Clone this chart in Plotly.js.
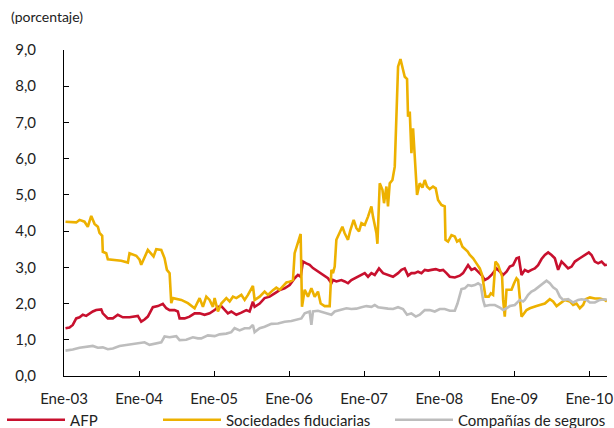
<!DOCTYPE html>
<html>
<head>
<meta charset="utf-8">
<script src="https://cdn.plot.ly/plotly-3.0.1.min.js"></script>
<style>html,body{margin:0;padding:0;background:#fff;}#chart{width:614px;height:428px;}</style>
</head>
<body>
<div id="chart"></div>
<script>
// Time expressed in decimal years
const afpT = [
 2003.020,2003.073,2003.117,2003.163,2003.207,2003.251,2003.296,2003.340,2003.384,2003.429,
 2003.496,2003.517,2003.584,2003.651,2003.717,2003.784,2003.873,2003.984,2004.029,2004.073,
 2004.117,2004.184,2004.251,2004.317,2004.363,2004.407,2004.473,2004.517,2004.540,2004.607,
 2004.673,2004.740,
 2004.807,2004.873,2004.940,2005.007,2005.051,2005.096,2005.140,2005.184,2005.229,2005.296,
 2005.363,2005.429,2005.473,2005.517,2005.540,2005.607,2005.673,2005.740,2005.807,2005.873,
 2005.940,2006.007,2006.073,2006.117,2006.153,2006.184,2006.229,2006.273,2006.317,2006.384,
 2006.451,2006.517,2006.563,
 2006.584,2006.629,2006.696,2006.740,2006.784,2006.829,2006.896,2006.963,2007.007,2007.051,
 2007.096,2007.140,2007.197,2007.251,2007.317,2007.384,2007.451,2007.496,2007.540,2007.584,
 2007.629,2007.673,2007.717,2007.763,2007.807,2007.851,2007.896,2007.953,2008.007,2008.051,
 2008.096,2008.140,2008.207,2008.273,2008.317,
 2008.384,2008.429,2008.473,2008.517,2008.563,2008.607,2008.651,2008.696,2008.763,2008.807,
 2008.851,2008.896,2008.940,2008.984,2009.029,2009.060,2009.096,2009.140,2009.184,2009.229,
 2009.273,2009.317,2009.363,2009.407,2009.451,2009.496,2009.540,2009.584,2009.629,2009.673,
 2009.717,2009.763,2009.807,2009.873,2009.940,2009.993,2010.029,2010.073,2010.117,2010.163,
 2010.207,2010.233
];
const afpV = [
 1.32,1.34,1.41,1.59,1.62,1.69,1.66,1.73,1.78,1.82,
 1.84,1.73,1.59,1.59,1.69,1.62,1.62,1.66,1.50,1.56,
 1.64,1.90,1.93,1.99,1.87,1.82,1.82,1.78,1.59,1.59,
 1.64,1.73,
 1.73,1.69,1.73,1.82,1.91,1.93,1.84,1.73,1.78,1.69,
 1.75,1.82,1.78,2.05,1.91,2.00,2.15,2.19,2.28,2.37,
 2.42,2.51,2.70,2.79,2.74,3.16,3.11,3.07,2.98,2.88,
 2.79,2.70,2.56,
 2.65,2.61,2.65,2.61,2.56,2.65,2.72,2.79,2.84,2.74,
 2.84,2.79,2.97,2.84,2.79,2.74,2.84,2.93,2.97,2.77,
 2.84,2.84,2.88,2.84,2.93,2.91,2.93,2.95,2.91,2.93,
 2.84,2.74,2.72,2.77,2.84,
 3.06,2.93,2.97,2.88,2.79,2.65,2.70,2.79,2.97,2.88,
 2.79,2.88,3.02,3.06,3.25,3.27,2.79,2.93,2.88,2.93,
 2.97,3.06,3.23,3.34,3.41,3.34,3.25,2.93,3.16,3.07,
 2.97,3.02,3.16,3.25,3.34,3.41,3.34,3.16,3.11,3.16,
 3.06,3.07
];

const sfT = [
 2003.020,2003.163,2003.207,2003.273,2003.317,2003.363,2003.407,2003.451,2003.473,2003.509,
 2003.517,2003.563,2003.584,2003.673,2003.763,2003.851,2003.873,2003.963,2004.007,2004.029,
 2004.073,2004.117,2004.163,2004.193,2004.229,2004.296,2004.340,2004.371,2004.407,2004.429,
 2004.451,2004.563,2004.651,2004.740,
 2004.807,2004.851,2004.896,2004.940,2004.984,2005.007,2005.051,2005.096,2005.163,2005.207,
 2005.251,2005.296,2005.363,2005.407,2005.451,2005.517,2005.540,2005.607,2005.673,2005.717,
 2005.784,2005.829,2005.873,2005.917,2005.963,2006.007,2006.051,2006.073,2006.117,2006.153,
 2006.171,2006.207,2006.251,2006.296,2006.340,2006.384,2006.420,2006.473,2006.540,
 2006.563,2006.584,2006.607,2006.629,2006.664,2006.709,2006.740,2006.784,2006.816,2006.860,
 2006.896,2006.931,2006.963,2007.007,2007.051,2007.096,2007.117,2007.163,2007.176,2007.207,
 2007.243,2007.264,2007.296,2007.317,2007.340,2007.376,2007.407,2007.429,2007.451,2007.483,
 2007.517,2007.540,2007.571,2007.584,2007.607,2007.629,2007.651,2007.673,2007.696,2007.704,
 2007.740,2007.776,2007.807,2007.837,2007.873,2007.917,2007.953,2007.984,2008.029,2008.073,
 2008.083,2008.117,2008.163,2008.207,2008.237,2008.273,2008.309,
 2008.376,2008.407,2008.451,2008.496,2008.540,2008.571,2008.597,2008.616,2008.660,2008.687,
 2008.717,2008.749,2008.784,2008.820,2008.837,2008.851,2008.873,2008.896,2008.963,2008.997,
 2009.029,2009.051,2009.073,2009.096,2009.117,2009.163,2009.207,2009.251,2009.296,2009.340,
 2009.407,2009.473,2009.517,2009.563,2009.607,2009.673,2009.740,2009.784,2009.829,2009.873,
 2009.917,2009.949,2010.007,2010.073,2010.140,2010.207,2010.233
];
const sfV = [
 4.26,4.24,4.31,4.26,4.12,4.42,4.20,4.12,3.95,3.87,
 3.43,3.39,3.22,3.21,3.18,3.13,3.39,3.32,3.21,3.07,
 3.30,3.48,3.37,3.30,3.50,3.48,3.25,2.93,2.84,2.01,
 2.15,2.10,2.01,1.87,
 2.15,1.91,2.19,2.10,1.91,2.15,1.78,2.00,2.15,2.06,
 2.19,2.15,2.24,2.10,2.24,2.49,2.10,2.19,2.33,2.24,
 2.37,2.44,2.38,2.49,2.58,2.60,2.65,3.39,3.67,3.92,
 1.91,2.38,2.19,2.42,2.19,2.33,2.00,1.93,1.93,
 2.93,2.84,3.02,3.76,3.94,4.12,3.94,3.76,4.03,4.31,
 4.08,3.99,4.22,4.17,4.40,4.68,4.40,3.94,3.65,5.32,
 5.14,4.77,5.23,4.68,5.32,5.41,5.78,7.44,8.54,8.75,
 8.45,8.26,8.20,7.16,7.30,6.15,6.84,6.06,5.41,5.00,
 5.32,5.20,5.41,5.23,5.16,5.23,5.18,4.86,4.72,4.68,
 3.76,3.71,3.89,3.85,3.71,3.76,3.57,
 3.44,3.34,3.25,3.11,2.97,2.79,2.42,2.19,2.19,2.28,
 2.24,3.16,3.07,2.88,2.75,2.10,1.64,2.38,2.38,2.56,
 2.70,2.65,2.10,1.64,1.69,1.82,1.87,1.91,1.93,1.96,
 2.00,2.12,2.06,1.93,2.00,2.10,2.06,1.96,2.00,1.87,
 1.96,2.12,2.17,2.14,2.14,2.10,2.06
];

const csT = [
 2003.020,2003.117,2003.207,2003.296,2003.384,2003.451,2003.517,2003.584,2003.651,2003.740,
 2003.829,2003.917,2004.007,2004.073,2004.140,2004.229,2004.296,2004.340,2004.407,2004.496,
 2004.540,2004.629,2004.717,2004.784,
 2004.829,2004.917,2005.007,2005.073,2005.163,2005.229,2005.273,2005.340,2005.407,2005.473,
 2005.517,2005.540,2005.607,2005.673,2005.763,2005.851,2005.940,2006.029,2006.073,2006.163,
 2006.207,2006.273,2006.296,2006.317,2006.384,2006.473,2006.563,
 2006.607,2006.673,2006.763,2006.829,2006.896,2006.963,2007.029,2007.096,2007.140,2007.184,
 2007.251,2007.317,2007.384,2007.451,2007.517,2007.571,2007.629,2007.687,2007.740,2007.807,
 2007.873,2007.940,2008.007,2008.073,2008.140,2008.207,2008.243,2008.296,
 2008.340,2008.384,2008.429,2008.473,2008.517,2008.553,2008.584,2008.607,2008.673,2008.740,
 2008.807,2008.851,2008.896,2008.940,2009.007,2009.073,2009.117,2009.140,2009.184,2009.229,
 2009.273,2009.317,2009.384,2009.429,2009.473,2009.517,2009.563,2009.607,2009.651,2009.717,
 2009.784,2009.851,2009.896,2009.963,2010.007,2010.073,2010.140,2010.207,2010.233
];
const csV = [
 0.70,0.73,0.78,0.81,0.83,0.78,0.79,0.74,0.76,0.83,
 0.86,0.89,0.91,0.93,0.86,0.89,0.93,1.09,1.07,1.10,
 0.99,1.00,1.07,1.04,
 1.04,1.12,1.10,1.15,1.17,1.21,1.32,1.26,1.32,1.32,
 1.41,1.21,1.32,1.36,1.44,1.45,1.50,1.52,1.55,1.59,
 1.73,1.78,1.41,1.78,1.80,1.75,1.69,
 1.78,1.82,1.87,1.85,1.86,1.90,1.93,1.91,1.96,1.90,
 1.87,1.86,1.85,1.90,1.85,1.69,1.73,1.64,1.69,1.82,
 1.82,1.78,1.85,1.85,1.80,1.80,2.00,2.40,
 2.42,2.51,2.49,2.51,2.56,2.51,2.10,1.93,1.96,1.96,
 1.89,1.82,1.87,1.93,1.96,2.10,2.06,2.10,2.24,2.33,
 2.38,2.45,2.58,2.63,2.56,2.45,2.38,2.19,2.10,2.12,
 2.03,2.10,2.12,2.10,2.03,2.03,2.10,2.12,2.10
];

const seriesNames = ['AFP', 'Sociedades fiduciarias', 'Compañías de seguros'];
const seriesColors = ['#C8102E', '#EDB100', '#BDBDBD'];
const yearTicks = [2003, 2004, 2005, 2006, 2007, 2008, 2009, 2010];
const yearLabels = ['Ene-03', 'Ene-04', 'Ene-05', 'Ene-06', 'Ene-07', 'Ene-08', 'Ene-09', 'Ene-10'];

const FONT = 'Lato, "Open Sans", sans-serif';
const FS = 15;
const TXT = '#222';

const xs = [afpT, sfT, csT];
const ys = [afpV, sfV, csV];
const legendIds = ['legend', 'legend2', 'legend3'];

const traces = seriesNames.map((n, i) => ({
  x: xs[i], y: ys[i], name: n, type: 'scatter', mode: 'lines',
  line: {color: seriesColors[i], width: 2.6},
  legend: legendIds[i], hoverinfo: 'skip'
}));

const W = 543, H = 326, L = 64, T = 50;
function px2x(p) { return (p - L) / W; }
function py2y(p) { return (T + H - p) / H; }

function leg(px) {
  return {orientation: 'h', x: px2x(px), xanchor: 'left', y: py2y(420), yanchor: 'middle',
          font: {family: FONT, size: FS, color: TXT}, itemwidth: 58,
          bgcolor: 'rgba(0,0,0,0)', borderwidth: 0, tracegroupgap: 0};
}

const layout = {
  width: 614, height: 428,
  margin: {l: L, r: 614 - L - W, t: T, b: 428 - T - H, autoexpand: false},
  paper_bgcolor: '#fff', plot_bgcolor: '#fff',
  separators: ',.',
  font: {family: FONT, size: FS, color: TXT},
  showlegend: true,
  xaxis: {
    range: [2003, 2010.235], tickvals: yearTicks, ticktext: yearLabels,
    ticks: 'inside', ticklen: 5, tickcolor: '#000', showline: true, linecolor: '#000', linewidth: 1,
    showgrid: false, zeroline: false, tickfont: {family: FONT, size: FS, color: TXT},
    ticklabelstandoff: 9, automargin: false, fixedrange: true
  },
  yaxis: {
    range: [0, 9], dtick: 1, tick0: 0, tickformat: '.1f',
    ticks: 'inside', ticklen: 5, tickcolor: '#000', showline: true, linecolor: '#000', linewidth: 1,
    showgrid: false, zeroline: false, tickfont: {family: FONT, size: FS, color: TXT},
    ticklabelstandoff: 24, automargin: false, fixedrange: true
  },
  legend: leg(2), legend2: leg(158), legend3: leg(390),
  annotations: [{
    text: '(porcentaje)', xref: 'paper', yref: 'paper', x: px2x(9), y: py2y(17),
    xanchor: 'left', yanchor: 'middle', showarrow: false,
    font: {family: FONT, size: 14, color: TXT}
  }]
};

Plotly.newPlot('chart', traces, layout, {displayModeBar: false, staticPlot: true});
</script>
</body>
</html>
